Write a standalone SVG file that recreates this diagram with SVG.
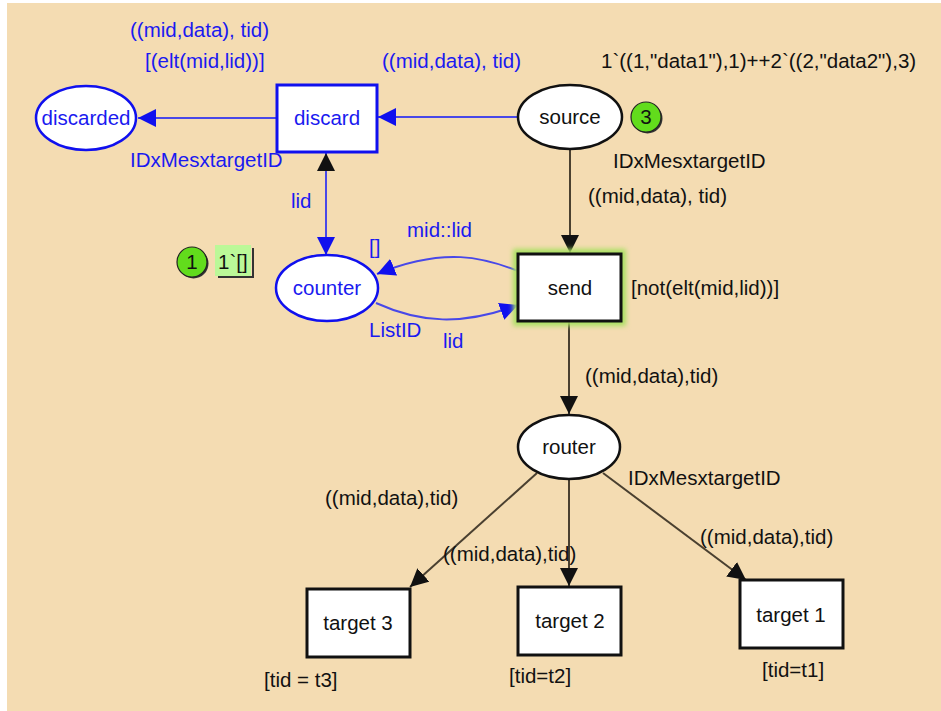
<svg xmlns="http://www.w3.org/2000/svg" width="941" height="711" viewBox="0 0 941 711">
<style>
text{font-family:"Liberation Sans",Arial,sans-serif;font-size:20.5px}
.b{fill:#1a1af0}
.k{fill:#111}
.c{text-anchor:middle}
.pb{fill:#fff;stroke:#1010ee;stroke-width:2.5}
.pk{fill:#fff;stroke:#111;stroke-width:2.5}
.tb{fill:#fff;stroke:#1010ee;stroke-width:3}
.tk{fill:#fff;stroke:#111;stroke-width:3}
.ab{fill:none;stroke:#4848e8;stroke-width:2}
.ak{fill:none;stroke:#4a4030;stroke-width:2}
.tok{fill:#62dc1c;stroke:#222;stroke-width:1.2}
</style>
<defs>
<marker id="mb" markerUnits="userSpaceOnUse" markerWidth="19" markerHeight="18" refX="18" refY="9" orient="auto"><path d="M0,0 L18,9 L0,18 z" fill="#1010ee"/></marker>
<marker id="mbs" markerUnits="userSpaceOnUse" markerWidth="19" markerHeight="18" refX="18" refY="9" orient="auto-start-reverse"><path d="M0,0 L18,9 L0,18 z" fill="#1010ee"/></marker>
<marker id="mk" markerUnits="userSpaceOnUse" markerWidth="19" markerHeight="18" refX="18" refY="9" orient="auto"><path d="M0,0 L18,9 L0,18 z" fill="#111"/></marker>
<filter id="glow" x="-20%" y="-20%" width="140%" height="140%"><feGaussianBlur stdDeviation="2.5"/></filter>
</defs>
<rect x="7" y="3" width="934" height="708" fill="#f4dcb2"/>

<g id="connectors">
<path class="ab" d="M518,117 L378,117" marker-end="url(#mb)"/>
<path class="ab" d="M276,118 L138,118" marker-end="url(#mb)"/>
<path class="ab" d="M326,255 L326,153" marker-start="url(#mbs)" marker-end="url(#mk)"/>
<path class="ak" d="M570,149 L570,253" marker-end="url(#mk)"/>
<path class="ab" d="M518,271 C485,258 445,246 377,274" marker-end="url(#mb)"/>
<path class="ab" d="M376,303 C420,323 462,326 518,305" marker-end="url(#mb)"/>
<path class="ak" d="M569,322 L569,414" marker-end="url(#mk)"/>
<path class="ak" d="M537,473 L410,587" marker-end="url(#mk)"/>
<path class="ak" d="M569,479 L569,586" marker-end="url(#mk)"/>
<path class="ak" d="M603,473 L746,580" marker-end="url(#mk)"/>
</g>

<g id="labels">
<text class="b" x="130" y="37">((mid,data), tid)</text>
<text class="b" x="145" y="68">[(elt(mid,lid))]</text>
<text class="b" x="382" y="68">((mid,data), tid)</text>
<text class="b" x="130" y="167">IDxMesxtargetID</text>
<text class="k" x="601" y="68">1`((1,"data1"),1)++2`((2,"data2"),3)</text>
<text class="k" x="613" y="168">IDxMesxtargetID</text>
<text class="k" x="588" y="203">((mid,data), tid)</text>
<text class="b" x="291" y="208">lid</text>
<text class="b" x="407" y="237">mid::lid</text>
<text class="b" x="369" y="254">[]</text>
<text class="b" x="369" y="337">ListID</text>
<text class="b" x="443" y="348">lid</text>
<text class="k" x="631" y="295">[not(elt(mid,lid))]</text>
<text class="k" x="585" y="383">((mid,data),tid)</text>
<text class="k" x="628" y="485">IDxMesxtargetID</text>
<text class="k" x="325" y="505">((mid,data),tid)</text>
<text class="k" x="443" y="561">((mid,data),tid)</text>
<text class="k" x="700" y="544">((mid,data),tid)</text>
<text class="k" x="264" y="687">[tid = t3]</text>
<text class="k" x="509" y="683">[tid=t2]</text>
<text class="k" x="762" y="677">[tid=t1]</text>
</g>

<g id="discarded">
<ellipse class="pb" cx="86" cy="118" rx="50" ry="32"/>
<text class="b c" x="86" y="125">discarded</text>
</g>
<g id="discard">
<rect class="tb" x="277" y="85" width="100" height="67"/>
<text class="b c" x="327" y="125">discard</text>
</g>
<g id="source">
<ellipse class="pk" cx="570" cy="117" rx="52" ry="32"/>
<text class="k c" x="570" y="124">source</text>
<g id="source-token">
<circle cx="647.5" cy="118.5" r="15" fill="#333"/>
<circle class="tok" cx="646" cy="117" r="15"/>
<text class="k c" x="646" y="124">3</text>
</g>
</g>
<g id="counter">
<ellipse class="pb" cx="327" cy="288" rx="51" ry="33"/>
<text class="b c" x="327" y="295">counter</text>
<g id="counter-token">
<circle cx="193.5" cy="263.5" r="15" fill="#333"/>
<circle class="tok" cx="192" cy="262" r="15"/>
<text class="k c" x="192" y="269">1</text>
<path d="M218,277 L253,277 L253,248" fill="none" stroke="#333" stroke-width="2"/>
<rect x="215" y="245" width="36" height="31" fill="#bbf898"/>
<text class="k" x="218" y="269">1`[]</text>
</g>
</g>
<g id="send">
<rect x="518" y="254" width="103" height="67" fill="none" stroke="#a8e060" stroke-width="10" filter="url(#glow)"/>
<rect class="tk" x="518" y="254" width="103" height="67"/>
<text class="k c" x="570" y="295">send</text>
</g>
<g id="router">
<ellipse class="pk" cx="569" cy="447" rx="51" ry="32"/>
<text class="k c" x="569" y="454">router</text>
</g>
<g id="target3">
<rect class="tk" x="307" y="589" width="103" height="68"/>
<text class="k c" x="358" y="630">target 3</text>
</g>
<g id="target2">
<rect class="tk" x="518" y="587" width="103" height="68"/>
<text class="k c" x="570" y="628">target 2</text>
</g>
<g id="target1">
<rect class="tk" x="740" y="580" width="103" height="68"/>
<text class="k c" x="791" y="622">target 1</text>
</g>
</svg>
